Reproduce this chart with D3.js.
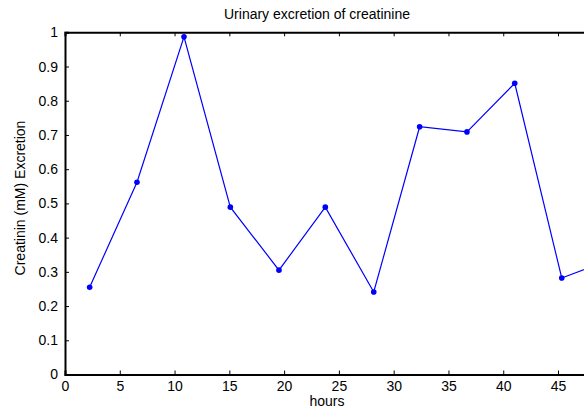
<!DOCTYPE html>
<html><head><meta charset="utf-8">
<script src="https://cdn.jsdelivr.net/npm/d3@7"></script>
<style>body{margin:0;background:#fff}svg{display:block}text{font-family:"Liberation Sans",Arial,sans-serif}</style>
</head><body><svg id="c" width="584" height="408"></svg>
<script>
const hours = [2.25, 6.57, 10.86, 15.09, 19.53, 23.76, 28.18, 32.37, 36.69, 41.05, 45.34, 49.64];
const creatinine = [0.255, 0.562, 0.987, 0.489, 0.305, 0.489, 0.241, 0.724, 0.709, 0.851, 0.282, 0.334];
const xTicks = [0, 5, 10, 15, 20, 25, 30, 35, 40, 45];
const yTicks = [0, 0.1, 0.2, 0.3, 0.4, 0.5, 0.6, 0.7, 0.8, 0.9, 1];
const titleText = "Urinary excretion of creatinine";
const xLabel = "hours";
const yLabel = "Creatinin (mM) Excretion";

const svg = d3.select("#c");
const L = 65, T = 32.3, B = 374.5;
const x = d3.scaleLinear().domain([0, 50]).range([L, L + 50 * 10.956]);
const y = d3.scaleLinear().domain([0, 1]).range([B, T]);
const R = x(50);

svg.append("defs").append("clipPath").attr("id","pc")
  .append("rect").attr("x", L).attr("y", T).attr("width", R - L).attr("height", B - T);

// data line
const g = svg.append("g").attr("clip-path","url(#pc)");
const data = hours.map((h,i)=>[h, creatinine[i]]);
g.append("path").datum(data)
  .attr("fill","none").attr("stroke","#0000ff").attr("stroke-width",1.2)
  .attr("d", d3.line().x(d=>x(d[0])).y(d=>y(d[1])));
g.selectAll("circle").data(data).enter().append("circle")
  .attr("cx", d=>x(d[0])).attr("cy", d=>y(d[1])).attr("r", 2.8).attr("fill","#0000ff");

// axes
const xAxis = svg.append("g").attr("transform",`translate(0,${B})`)
  .call(d3.axisBottom(x).tickValues(xTicks).tickSize(-4).tickPadding(7).tickFormat(d3.format("d")));
const xTop = svg.append("g").attr("transform",`translate(0,${T})`)
  .call(d3.axisTop(x).tickValues(xTicks).tickSize(-4).tickFormat(""));
const yAxis = svg.append("g").attr("transform",`translate(${L},0)`)
  .call(d3.axisLeft(y).tickValues(yTicks).tickSize(-4).tickPadding(7).tickFormat(d=>d===0?"0":d===1?"1":d3.format(".1f")(d)));
[xAxis, xTop, yAxis].forEach(a=>{
  a.select(".domain").attr("stroke","#000").attr("stroke-width",2);
  a.selectAll(".tick line").attr("stroke","#000").attr("stroke-width",1);
  a.selectAll("text").attr("font-size",14).attr("fill","#000");
});
xAxis.selectAll(".tick text").attr("dy","0.71em");

svg.append("text").attr("x",317).attr("y",19).attr("text-anchor","middle")
  .attr("font-size",14).text(titleText);
svg.append("text").attr("x",327).attr("y",406).attr("text-anchor","middle")
  .attr("font-size",14).text(xLabel);
svg.append("text").attr("transform","translate(25,198) rotate(-90)").attr("text-anchor","middle")
  .attr("font-size",14).text(yLabel);
</script></body></html>
